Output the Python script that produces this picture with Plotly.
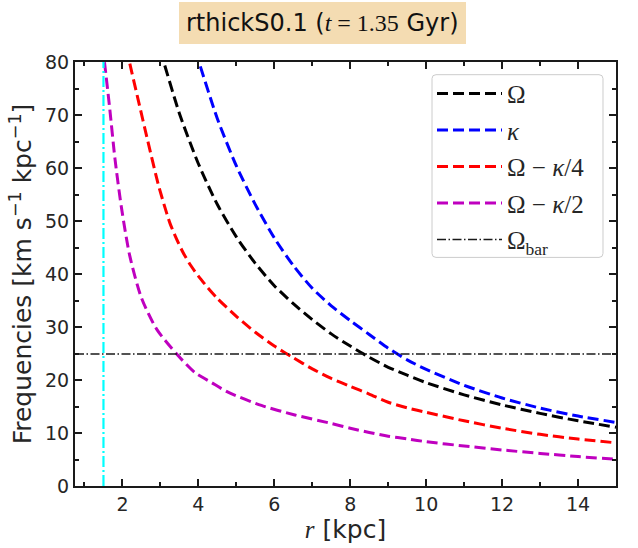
import plotly.graph_objects as go

# Rotation-curve frequencies (km s^-1 kpc^-1) versus radius (kpc) at t = 1.35 Gyr
r_omega = [3.0, 3.1, 3.5, 4.0, 4.5, 5.0, 5.5, 6.0, 6.5, 7.0, 7.5, 8.0, 8.5, 9.0,
           9.5, 10.0, 11.0, 12.0, 13.0, 14.0, 15.0]
omega = [82.2, 79.7, 70.3, 60.8, 53.1, 47.0, 42.0, 37.8, 34.4, 31.4, 28.7, 26.4,
         24.3, 22.4, 20.9, 19.5, 17.2, 15.3, 13.7, 12.3, 11.1]

r_kappa = [3.92, 4.0, 4.5, 5.0, 5.5, 6.0, 6.5, 7.0, 7.5, 8.0, 8.5, 9.0, 9.5, 10.0,
           11.0, 12.0, 13.0, 14.0, 15.0]
kappa = [82.0, 80.3, 69.3, 60.4, 53.1, 46.8, 41.6, 37.3, 34.0, 31.2, 28.6, 26.0,
         23.8, 22.0, 19.0, 16.6, 14.7, 13.2, 12.0]

r_ilr4 = [2.1, 2.19, 2.41, 2.67, 2.94, 3.1, 3.25, 3.4, 3.6, 3.8, 4.0, 4.25, 4.5,
          5.0, 5.5, 6.0, 6.5, 7.0, 7.5, 8.0, 8.5, 9.0, 9.5, 10.0, 11.0, 12.0,
          13.0, 14.0, 15.0]
omega_k4 = [82.6, 79.8, 73.0, 65.0, 57.0, 53.0, 49.6, 47.0, 44.0, 41.6, 39.6, 37.4,
            35.4, 32.0, 29.0, 26.4, 24.2, 22.1, 20.3, 18.8, 17.35, 15.8, 14.75, 13.9,
            12.3, 10.9, 9.75, 8.85, 8.15]

r_ilr2 = [1.48, 1.53, 1.665, 1.8, 1.97, 2.19, 2.5, 2.9, 3.44, 3.91, 4.35, 4.78,
          5.66, 6.54, 7.5, 8.0, 8.5, 9.0, 9.5, 10.0, 11.0, 12.0, 13.0, 14.0, 15.0]
omega_k2 = [83.0, 79.8, 71.2, 61.9, 52.7, 43.5, 35.5, 29.6, 24.8, 21.4, 19.5, 17.7,
            15.2, 13.4, 11.8, 10.9, 10.1, 9.4, 8.9, 8.35, 7.55, 6.8, 6.15, 5.55, 5.05]

omega_bar = 24.9        # bar pattern speed
r_marker = 1.5          # vertical reference radius
x_range = [0.75, 15.0]
y_range = [0, 80]

SERIF = "Liberation Serif"
TXT = "#262626"
AX = "#1a1a1a"

W, H = 638, 548
M_L, M_R, M_T, M_B = 75, 22, 62, 52
PW, PH = W - M_L - M_R, H - M_T - M_B

fig = go.Figure()

curves = [
    (r_omega, omega, "black", "Ω"),
    (r_kappa, kappa, "#0000ff", "<i>κ</i>"),
    (r_ilr4, omega_k4, "#ff0000", "Ω − <i>κ</i>/4"),
    (r_ilr2, omega_k2, "#bf00bf", "Ω − <i>κ</i>/2"),
]
for i, (xs, ys, col, name) in enumerate(curves):
    fig.add_trace(go.Scatter(
        x=xs, y=ys, mode="lines", name=name, legendgroup=f"g{i}",
        line=dict(color=col, width=3, dash="11px,5px", shape="spline", smoothing=0.7),
    ))

fig.add_trace(go.Scatter(
    x=x_range, y=[omega_bar, omega_bar], mode="lines",
    name="Ω<sub>bar</sub>", legendgroup="g4",
    line=dict(color=AX, width=1.5, dash="9px,2.5px,1.5px,2.5px"),
))

fig.add_trace(go.Scatter(
    x=[r_marker, r_marker], y=y_range, mode="lines", showlegend=False,
    line=dict(color="#00ffff", width=2.2, dash="11px,3px,2px,3px"),
))

axis_common = dict(
    showgrid=False, zeroline=False, showline=True, linecolor=AX, linewidth=2,
    mirror="ticks", ticks="inside", ticklen=7, tickwidth=2, tickcolor=AX,
    tickfont=dict(family="DejaVu Sans", size=19, color=TXT),
)

fig.update_xaxes(
    range=x_range, tick0=0, dtick=2,
    minor=dict(ticks="inside", ticklen=4, tickwidth=1.5, tickcolor=AX, dtick=1, tick0=0),
    title=dict(text="<i><span style=\"font-family:Liberation Serif\">r</span></i> [kpc]",
               font=dict(family="DejaVu Sans", size=25, color=TXT), standoff=4),
    **axis_common,
)
fig.update_yaxes(
    range=y_range, tick0=0, dtick=10,
    minor=dict(ticks="inside", ticklen=4, tickwidth=1.5, tickcolor=AX, dtick=5, tick0=0),
    title=dict(text="Frequencies [km s<sup>−1</sup> kpc<sup>−1</sup>]",
               font=dict(family="DejaVu Sans", size=25, color=TXT), standoff=6),
    **axis_common,
)

fig.add_annotation(
    xref="paper", yref="paper", x=0.4566, y=1.093, xanchor="center", yanchor="middle",
    text=("rthickS0.1 (<span style=\"font-family:Liberation Serif\"><i>t</i> = 1.35</span> Gyr)"),
    showarrow=False, font=dict(family="DejaVu Sans", size=24, color="#111111"),
    bgcolor="#f4dcb2", bordercolor="#f4dcb2", borderpad=6,
)


def px_to_paper(px, py):
    return (px - M_L) / PW, (M_T + PH - py) / PH


def rounded_box(x0, y0, x1, y1, rad):
    """SVG path (paper coords) for a rounded rectangle given in pixel coords."""
    def P(px, py):
        x, y = px_to_paper(px, py)
        return f"{x:.5f},{y:.5f}"
    return " ".join([
        f"M{P(x0 + rad, y0)}",
        f"L{P(x1 - rad, y0)}",
        f"Q{P(x1, y0)} {P(x1, y0 + rad)}",
        f"L{P(x1, y1 - rad)}",
        f"Q{P(x1, y1)} {P(x1 - rad, y1)}",
        f"L{P(x0 + rad, y1)}",
        f"Q{P(x0, y1)} {P(x0, y1 - rad)}",
        f"L{P(x0, y0 + rad)}",
        f"Q{P(x0, y0)} {P(x0 + rad, y0)} Z",
    ])


# frame behind the legend entries
fig.add_shape(
    type="path", xref="paper", yref="paper", layer="above",
    path=rounded_box(432, 75, 603, 262, 4),
    fillcolor="rgba(255,255,255,0.8)", line=dict(color="#cccccc", width=1),
)

lx, ly = px_to_paper(432, 71)
fig.update_layout(
    width=W, height=H,
    margin=dict(l=M_L, r=M_R, t=M_T, b=M_B),
    paper_bgcolor="white", plot_bgcolor="white",
    showlegend=True,
    legend=dict(
        x=lx, y=ly, xanchor="left", yanchor="top",
        bgcolor="rgba(0,0,0,0)", borderwidth=0,
        font=dict(family=SERIF, size=25, color=TXT),
        traceorder="grouped", tracegroupgap=1, itemwidth=65,
    ),
)

fig.write_html("out.html")
